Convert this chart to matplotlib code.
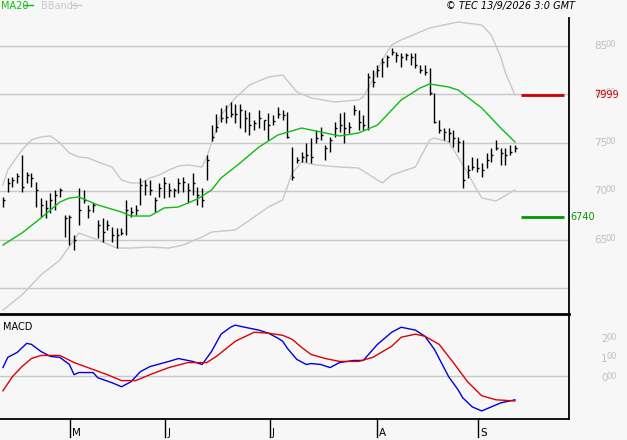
import matplotlib
matplotlib.use("Agg")
import matplotlib.pyplot as plt
import numpy as np

high = [6943,7139,7149,7190,7376,7201,7190,7098,6933,6912,6984,7015,7036,6758,6758,6551,7036,7015,6861,6881,
        6706,6726,6706,6634,6623,6623,6912,6840,6861,7139,7118,7118,6943,7087,7149,7087,7036,7139,7149,7087,
        7190,7046,7036,7376,7685,7799,7860,7891,7922,7902,7902,7840,7819,7737,7840,7737,7809,7788,7871,7840,
        7819,7458,7355,7407,7500,7551,7634,7665,7479,7562,7716,7809,7819,7716,7891,7840,7788,8221,8252,8304,
        8376,8407,8479,8438,8428,8428,8428,8428,8304,8304,8273,8015,7737,7654,7654,7634,7562,7531,7273,7355,
        7345,7293,7397,7448,7531,7448,7448,7479,7479]
low = [6840,6995,7046,7087,6995,7087,7046,6840,6737,6726,6778,6809,6943,6531,6448,6397,6654,6881,6726,6788,
       6520,6479,6603,6479,6417,6551,6551,6737,6758,6861,6964,6964,6788,6943,6933,6943,6943,6984,6995,6881,
       6964,6861,6840,7118,7520,7613,7716,7706,7768,7706,7654,7613,7582,7634,7654,7634,7531,7685,7757,7737,
       7551,7118,7293,7304,7304,7293,7500,7531,7324,7407,7562,7613,7500,7603,7788,7634,7634,7634,8077,8180,
       8180,8283,8407,8335,8283,8355,8304,8273,8221,8201,7995,7706,7603,7531,7510,7458,7407,7036,7139,7221,
       7201,7149,7242,7304,7428,7273,7273,7376,7407]
close = [6912,7087,7118,7160,7046,7170,7139,7015,6861,6830,6912,6964,7015,6726,6737,6500,6809,6912,6809,6861,
         6654,6582,6654,6551,6551,6572,6809,6788,6809,7066,7066,7015,6912,7036,7087,7015,7015,7087,7098,7015,
         7087,6964,6912,7324,7562,7665,7757,7768,7799,7799,7840,7757,7685,7706,7757,7737,7685,7727,7799,7788,
         7562,7149,7324,7355,7376,7355,7551,7582,7448,7531,7654,7685,7654,7665,7840,7716,7685,8180,8129,8252,
         8335,8386,8438,8407,8386,8407,8386,8304,8252,8232,8015,7716,7634,7613,7603,7551,7510,7118,7221,7252,
         7242,7221,7324,7376,7448,7397,7376,7407,7448]

ma_idx = [0,4,8,12,14,16,20,25,27,31,34,37,41,44,46,50,54,58,63,67,71,75,79,84,88,90,94,96,101,105,108]
ma_val = [6448,6572,6726,6891,6933,6943,6861,6788,6747,6747,6830,6840,6922,7015,7139,7293,7458,7582,7654,7613,
          7572,7603,7685,7943,8067,8108,8077,8046,7860,7654,7510]
up_idx = [0,1,4,6,8,10,12,14,16,18,20,23,25,27,29,31,33,35,37,39,42,43,46,49,52,56,59,62,65,70,75,76,78,80,82,84,
          90,96,101,103,105,106,108]
up_val = [7067,7221,7428,7531,7562,7572,7500,7397,7355,7345,7304,7252,7118,7087,7087,7139,7170,7221,7262,7273,
          7252,7355,7788,7964,8098,8180,8201,8026,7964,7922,7943,7974,8149,8355,8510,8562,8685,8747,8716,8613,
          8386,8221,7995]
lo_idx = [0,4,8,12,16,20,24,27,31,35,38,42,44,49,53,56,59,61,63,66,71,75,78,80,82,87,90,91,94,96,98,100,101,104,108]
lo_val = [5778,5933,6139,6293,6572,6500,6417,6417,6427,6417,6448,6531,6582,6603,6737,6840,6912,7190,7304,7273,
          7252,7242,7149,7087,7170,7252,7531,7551,7510,7355,7190,7015,6933,6902,7015]

macd_idx = [0,1,3,5,6,8,10,12,14,15,16,19,20,23,25,27,29,31,35,37,40,42,44,46,48,49,51,54,56,58,59,60,62,64,65,67,
            69,71,74,76,79,82,84,87,89,91,94,96,97,99,101,103,105,108]
macd_val = [42,95,121,168,163,126,100,95,58,5,16,16,-11,-37,-58,-32,21,47,74,89,74,58,126,216,252,263,252,237,221,
            195,179,142,84,58,63,58,42,68,79,79,163,226,252,237,205,137,-5,-74,-116,-163,-184,-163,-142,-126]
sig_idx = [0,2,4,6,8,12,15,19,22,25,28,31,35,39,43,45,49,53,56,59,61,63,65,68,71,75,78,82,84,87,89,92,95,98,101,104,108]
sig_val = [-79,-5,47,89,105,105,68,32,5,-26,-26,5,42,68,68,100,179,226,221,210,189,147,110,89,74,74,95,153,200,216,
           205,163,68,-32,-105,-126,-132]

price_ticks = [6500,7000,7500,8000,8500]
grid_levels = [6000,6500,7000,7500,8000,8500]
macd_ticks = [0,100,200]
month_pos = [14.1,34.2,56.3,78.9,100.2]
month_lab = ["M","J","J","A","S"]
resist = 7999
support = 6740

W, H = 627, 440
fig = plt.figure(figsize=(W/100, H/100), dpi=100)
BG = "#f7f7f7"
fig.patch.set_facecolor(BG)
PT = 72/100  # points per pixel

def rect(x0, y0, x1, y1):
    return [x0/W, 1-y1/H, (x1-x0)/W, (y1-y0)/H]
ax = fig.add_axes(rect(0, 18, 569, 314))
ax2 = fig.add_axes(rect(0, 314, 569, 419))
for a in (ax, ax2):
    a.set_facecolor(BG)
    a.set_xlim(-0.63, 119.4)
    a.set_xticks([]); a.set_yticks([])
    for s in a.spines.values():
        s.set_visible(False)
ax.set_ylim(5737, 8788)
ax2.set_ylim(-226, 321)

for g in grid_levels:
    ax.axhline(g, color="#c8c8c8", lw=1, zorder=1)
ax2.axhline(0, color="#c8c8c8", lw=1, zorder=1)

x = np.arange(len(close))
ax.vlines(x, low, high, color="black", lw=1.0, zorder=3)
ax.hlines(close, x, x+0.42, color="black", lw=1.0, zorder=3)

ax.plot(up_idx, up_val, color="#c8c8c8", lw=1, zorder=2)
ax.plot(lo_idx, lo_val, color="#c8c8c8", lw=1, zorder=2)
ax.plot(ma_idx, ma_val, color="#11bb11", lw=1, zorder=4)

ax.hlines([resist], 109.2, 118.3, color="#cc0000", lw=2, zorder=4)
ax.hlines([support], 109.2, 118.3, color="#009900", lw=2, zorder=4)

ax2.plot(macd_idx, macd_val, color="#0000dd", lw=1)
ax2.plot(sig_idx, sig_val, color="#dd0000", lw=1)

fig.add_artist(plt.Line2D([569/W, 569/W], [1-419/H, 1-18/H], color="black", lw=1.3))
fig.add_artist(plt.Line2D([0, 569/W], [1-314/H, 1-314/H], color="black", lw=2))
fig.add_artist(plt.Line2D([0, 569/W], [1-419/H, 1-419/H], color="black", lw=1.3))

trans = ax.get_yaxis_transform()
for t in price_ticks:
    s = str(t)
    ax.annotate(s[:2], xy=(1, t), xycoords=trans, xytext=(25*PT, 0), textcoords="offset points",
                ha="left", va="center", fontsize=7.5, color="#c0c0c0")
    ax.annotate(s[2:], xy=(1, t), xycoords=trans, xytext=(37*PT, 1.2), textcoords="offset points",
                ha="left", va="center", fontsize=6, color="#c0c0c0")
t2 = ax2.get_yaxis_transform()
for t in macd_ticks:
    s = "%03d" % t
    ax2.annotate(s[0], xy=(1, t), xycoords=t2, xytext=(32*PT, -1.5), textcoords="offset points",
                 ha="left", va="center", fontsize=7.5, color="#c0c0c0")
    ax2.annotate(s[1:], xy=(1, t), xycoords=t2, xytext=(37.5*PT, -0.3), textcoords="offset points",
                 ha="left", va="center", fontsize=6, color="#c0c0c0")
ax.annotate(str(resist), xy=(1, resist), xycoords=trans, xytext=(25*PT, 0), textcoords="offset points",
            ha="left", va="center", fontsize=7, color="#cc0000")
ax.annotate(str(support), xy=(1, support), xycoords=trans, xytext=(1, 0), textcoords="offset points",
            ha="left", va="center", fontsize=7, color="#009900")

for p, lab in zip(month_pos, month_lab):
    xf = (p+0.63)/120.03*569/W
    fig.add_artist(plt.Line2D([xf, xf], [1-419/H, 1-437/H], color="black", lw=1))
    ax2.annotate(lab, xy=(p, 0), xycoords=ax2.get_xaxis_transform(), xytext=(1.5, -10),
                 textcoords="offset points", ha="left", va="center", fontsize=7.5, color="black")

fig.text(1/W, 1-6/H, "MA20", color="#11bb11", fontsize=7, va="center")
fig.add_artist(plt.Line2D([24/W, 33/W], [1-5/H]*2, color="#11bb11", lw=1))
fig.text(41/W, 1-6/H, "BBands", color="#c8c8c8", fontsize=7, va="center")
fig.add_artist(plt.Line2D([72/W, 81/W], [1-5/H]*2, color="#c8c8c8", lw=1))
fig.text(575/W, 1-6/H, "© TEC 13/9/2026 3:0 GMT", color="black", fontsize=7, va="center", ha="right",
         style="italic")
ax2.text(3/569, 1-(327-314)/105, "MACD", transform=ax2.transAxes, fontsize=7, va="center", ha="left")

fig.savefig("out.png", dpi=100, facecolor=fig.get_facecolor())
